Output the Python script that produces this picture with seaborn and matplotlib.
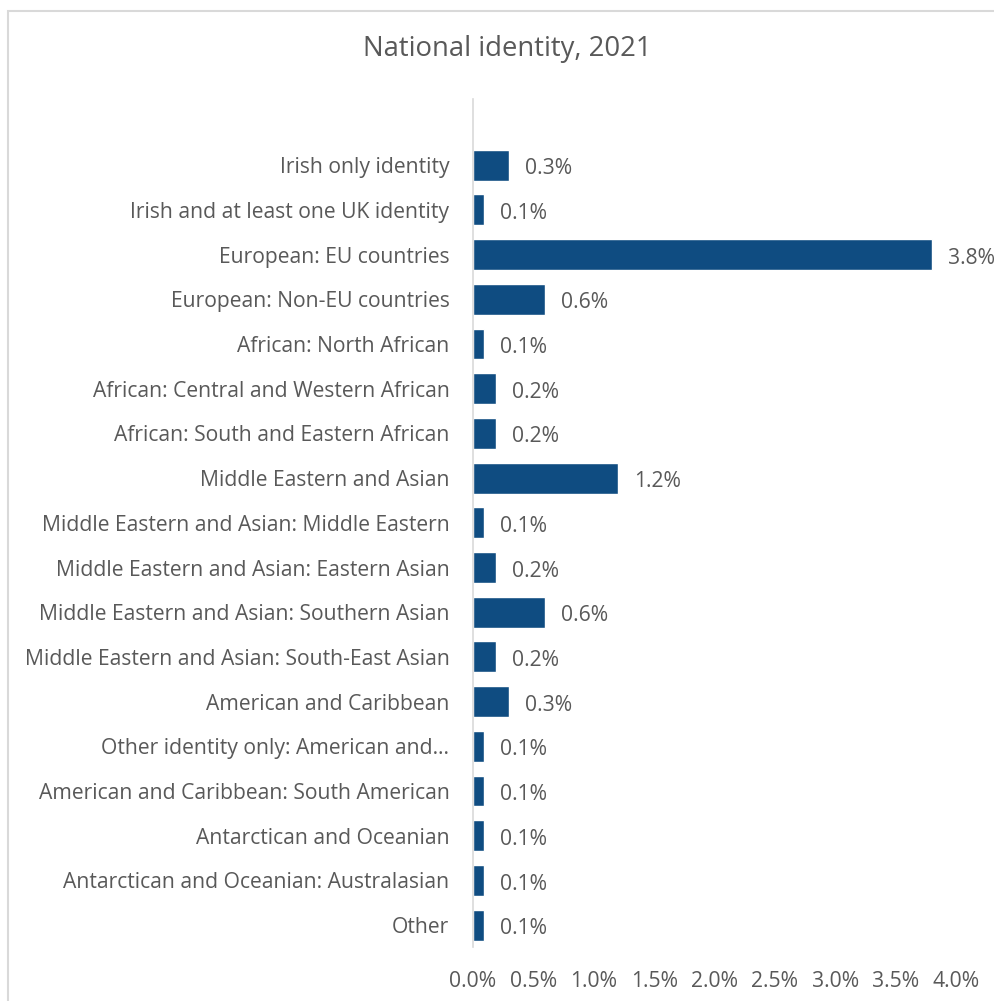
import matplotlib.pyplot as plt
import seaborn as sns
import pandas as pd
from matplotlib.patches import Rectangle

# data (percent)
categories = [
    "Irish only identity",
    "Irish and at least one UK identity",
    "European: EU countries",
    "European: Non-EU countries",
    "African: North African",
    "African: Central and Western African",
    "African: South and Eastern African",
    "Middle Eastern and Asian",
    "Middle Eastern and Asian: Middle Eastern",
    "Middle Eastern and Asian: Eastern Asian",
    "Middle Eastern and Asian: Southern Asian",
    "Middle Eastern and Asian: South-East Asian",
    "American and Caribbean",
    "Other identity only: American and\u2026",
    "American and Caribbean: South American",
    "Antarctican and Oceanian",
    "Antarctican and Oceanian: Australasian",
    "Other",
]
values = [0.30, 0.09, 3.80, 0.60, 0.09, 0.19, 0.19, 1.20, 0.09,
          0.19, 0.60, 0.19, 0.30, 0.09, 0.09, 0.09, 0.09, 0.09]
x_ticks = [0.0, 0.5, 1.0, 1.5, 2.0, 2.5, 3.0, 3.5, 4.0]

title = "National identity, 2021"
bar_color = "#0F4C81"
text_color = "#595959"

sns.set_theme(style="white")
plt.rcParams["font.family"] = ["Open Sans", "DejaVu Sans"]

df = pd.DataFrame({"identity": categories, "pct": values})

fig = plt.figure(figsize=(9.95, 10.01), dpi=100)
ax = fig.add_axes([0.4754, 0.0539, 0.4854, 0.8472])

sns.barplot(data=df, x="pct", y="identity", orient="h", color=bar_color,
            width=0.69, saturation=1, ax=ax)

ax.set_xlim(0, 4.0)
ax.set_ylim(17.49, -1.48)
ax.set_xticks(x_ticks)
ax.set_xticklabels([f"{t:.1f}%" for t in x_ticks])
ax.set_xlabel("")
ax.set_ylabel("")
ax.tick_params(axis="both", length=0, labelsize=15.2, labelcolor=text_color)
ax.tick_params(axis="x", pad=17)
ax.tick_params(axis="y", pad=17)

for side in ["top", "right", "bottom"]:
    ax.spines[side].set_visible(False)
ax.spines["left"].set_color("#D9D9D9")
ax.spines["left"].set_linewidth(1.2)

for i, v in enumerate(values):
    ax.text(v + 0.13, i + 0.08, f"{v:.1f}%", va="center", ha="left",
            fontsize=15.2, color=text_color)

fig.text(0.51, 0.951, title, ha="center", va="center", fontsize=19.8,
         color=text_color)

# chart-area border (runs off the right and bottom edges)
fig.patches.append(Rectangle((8 / 995, -0.05), 1.1, 1 - 11 / 1001 + 0.05,
                             transform=fig.transFigure, fill=False,
                             edgecolor="#D9D9D9", linewidth=1.5))

fig.savefig("out.png", dpi=100)
